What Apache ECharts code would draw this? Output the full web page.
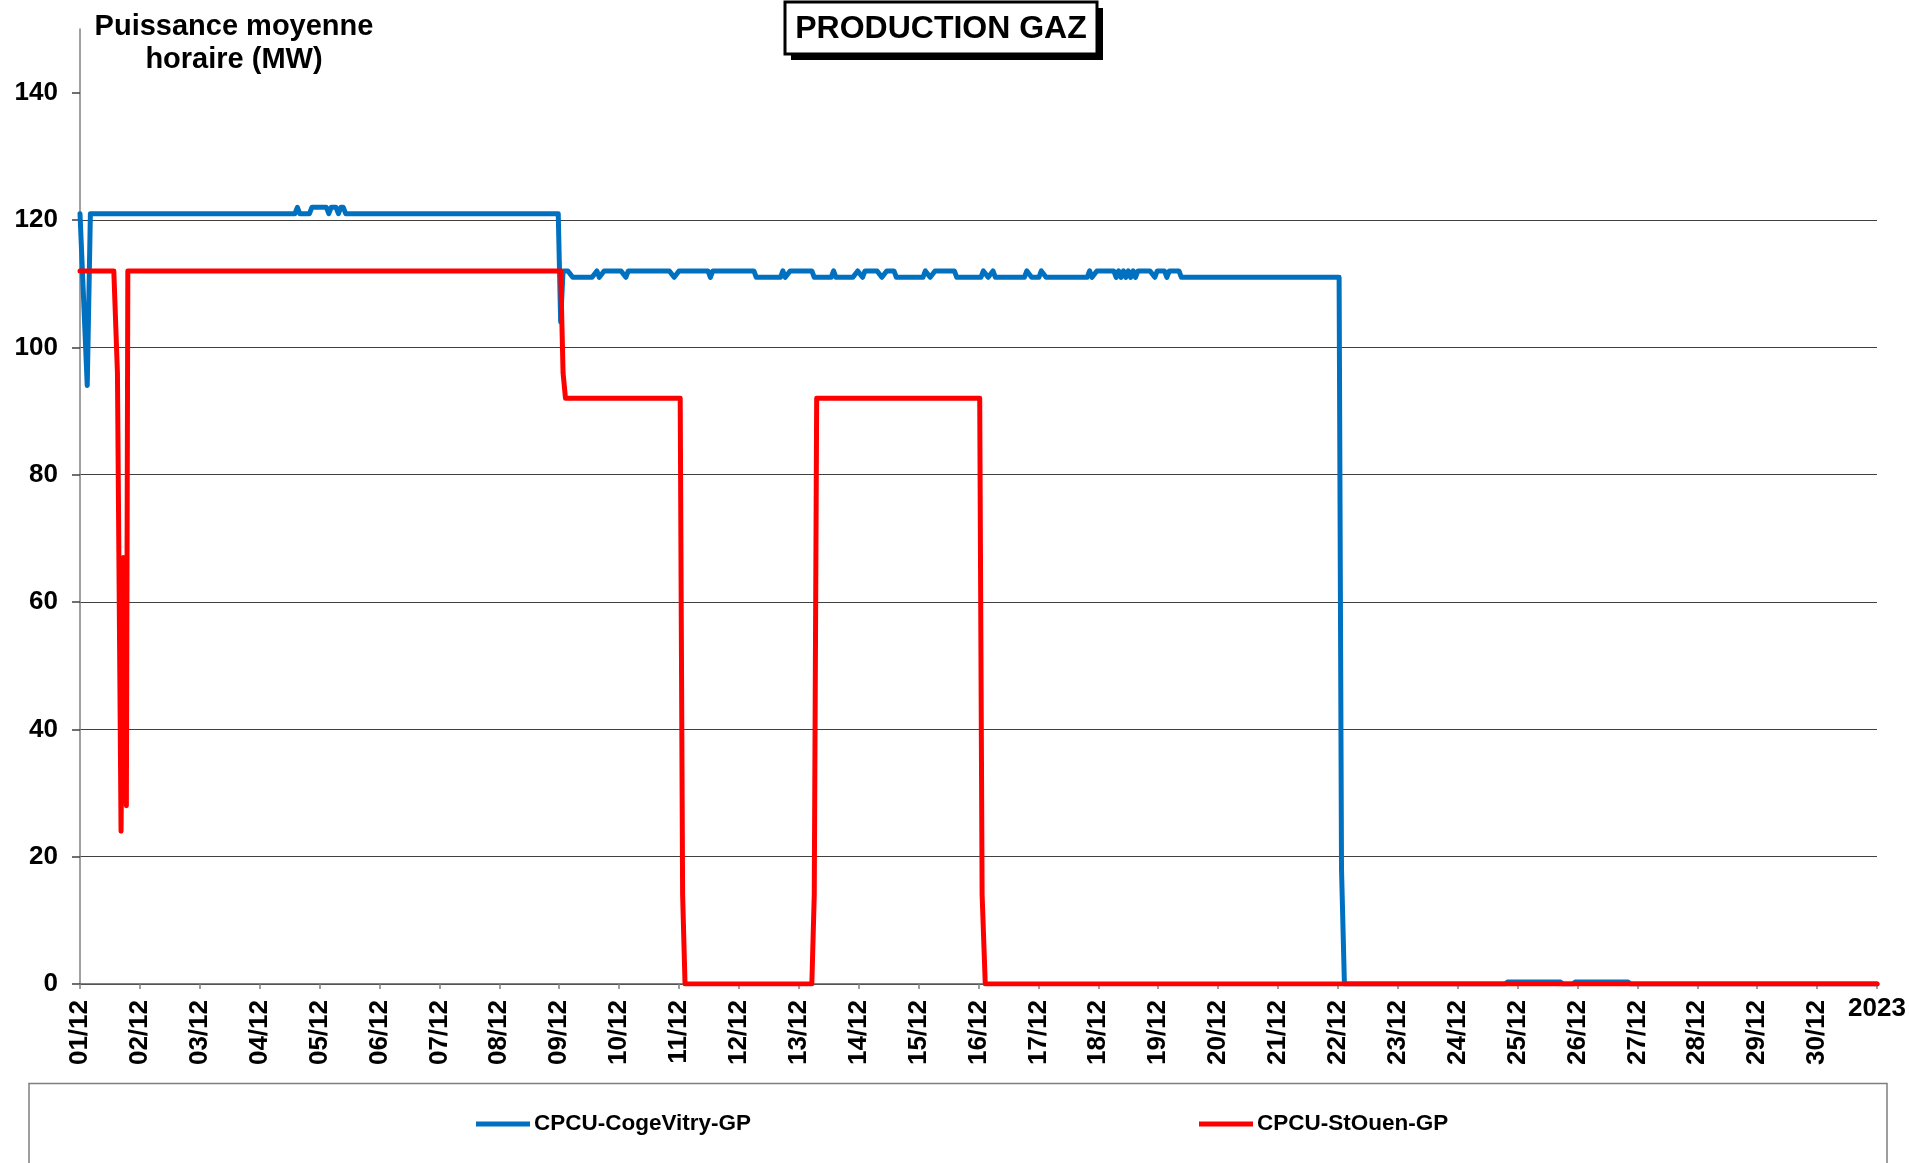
<!DOCTYPE html>
<html>
<head>
<meta charset="utf-8">
<script src="https://cdn.jsdelivr.net/npm/echarts@6/dist/echarts.min.js"></script>
<style>
html,body{margin:0;padding:0;background:#fff;}
#chart{width:1909px;height:1163px;}
</style>
</head>
<body>
<div id="chart"></div>
<script>
// x in hours since 01/12 00:00, y in MW
var dayLabels = ['01/12','02/12','03/12','04/12','05/12','06/12','07/12','08/12','09/12','10/12',
  '11/12','12/12','13/12','14/12','15/12','16/12','17/12','18/12','19/12','20/12',
  '21/12','22/12','23/12','24/12','25/12','26/12','27/12','28/12','29/12','30/12','2023'];
var yTicks = [0,20,40,60,80,100,120,140];
var seriesNames = ['CPCU-CogeVitry-GP','CPCU-StOuen-GP'];

var cogeVitry = [
  [0,121],[3,94],[4.3,121],[89,121],[90,122],[91,121],[95,121],[96,122],[102,122],[103,121],
  [104,122],[106,122],[107,121],[108,122],[109,122],[110,121],[198,121],[199,104],[200,112],
  [202,112],[204,111],[212,111],[214,112],[215,111],[217,112],[224,112],[226,111],[227,112],
  [244,112],[246,111],[248,112],[260,112],[261,111],[262,112],[279,112],[280,111],[290,111],
  [291,112],[292,111],[294,112],[303,112],[304,111],[311,111],[312,112],[313,111],[320,111],
  [322,112],[324,111],[325,112],[330,112],[332,111],[334,112],[337,112],[338,111],[349,111],
  [350,112],[352,111],[354,112],[362,112],[363,111],[373,111],[374,112],[376,111],[378,112],
  [379,111],[391,111],[392,112],[394,111],[397,111],[398,112],[400,111],[417,111],[418,112],
  [419,111],[421,112],[428,112],[429,111],[430,112],[431,111],[432,112],[433,111],[434,112],
  [435,111],[436,112],[437,111],[438,112],[443,112],[445,111],[446,112],[449,112],[450,111],
  [451,112],[455,112],[456,111],[521.3,111],[522.3,18],[523.5,0],[590,0],[591,0.3],[613,0.3],
  [614,0],[618,0],[619,0.3],[641,0.3],[642,0],[744,0]
];
var stOuen = [
  [0,112],[14,112],[15.5,96],[17,24],[18,67],[19.2,28],[19.8,112],[199,112],[200,96],[201,92],
  [248.5,92],[249.5,14],[250.5,0],[303,0],[304,14],[305,92],[372.5,92],[373.5,14],[374.8,0],[744,0]
];

var FONT = '"Liberation Sans", Arial, Helvetica, sans-serif';
var STEP = 744 / 30;

var chart = echarts.init(document.getElementById('chart'), null, {renderer:'canvas'});
chart.setOption({
  animation:false,
  backgroundColor:'#ffffff',
  grid:{left:80, right:32, top:29, bottom:179, containLabel:false},
  legend:[
    {data:[seriesNames[0]], left:476, top:1111, padding:0, icon:'rect', itemWidth:54, itemHeight:5, itemGap:0,
      textStyle:{fontFamily:FONT, fontWeight:'bold', fontSize:22.5, color:'#000', padding:[0,0,0,-1], lineHeight:26}},
    {data:[seriesNames[1]], left:1199, top:1111, padding:0, icon:'rect', itemWidth:54, itemHeight:5, itemGap:0,
      textStyle:{fontFamily:FONT, fontWeight:'bold', fontSize:22.5, color:'#000', padding:[0,0,0,-1], lineHeight:26}}
  ],
  xAxis:[
    {type:'value', min:0, max:744, interval:STEP, position:'bottom',
      axisLine:{show:true, onZero:false, lineStyle:{color:'#595959', width:1.5}},
      axisTick:{show:true, length:5, lineStyle:{color:'#808080', width:1.5}},
      splitLine:{show:false},
      axisLabel:{rotate:90, margin:16, fontFamily:FONT, fontWeight:'bold', fontSize:26, color:'#000',
        formatter:function(v){var i=Math.round(v/STEP); return i<30 ? dayLabels[i] : '';}}
    },
    {type:'value', min:0, max:744, interval:STEP, position:'bottom', gridIndex:0,
      axisLine:{show:false}, axisTick:{show:false}, splitLine:{show:false},
      axisLabel:{rotate:0, margin:12, fontFamily:FONT, fontWeight:'bold', fontSize:26, color:'#000',
        formatter:function(v){var i=Math.round(v/STEP); return i===30 ? dayLabels[30] : '';}}
    }
  ],
  yAxis:{type:'value', min:0, max:150, interval:20,
    axisLine:{show:true, lineStyle:{color:'#808080', width:1.5}},
    axisTick:{show:true, length:8, inside:false, customValues:yTicks, lineStyle:{color:'#404040', width:1.5}},
    splitLine:{show:true, showMaxLine:false, lineStyle:{color:'#404040', width:1.2}},
    axisLabel:{margin:22, customValues:yTicks, fontFamily:FONT, fontWeight:'bold', fontSize:26, color:'#000'}
  },
  series:[
    {name:seriesNames[0], type:'line', data:cogeVitry, xAxisIndex:0, showSymbol:false, symbol:'none',
      color:'#0070C0', lineStyle:{width:5, color:'#0070C0', join:'round', cap:'round'}},
    {name:seriesNames[1], type:'line', data:stOuen, xAxisIndex:0, showSymbol:false, symbol:'none',
      color:'#FF0000', lineStyle:{width:5, color:'#FF0000', join:'round', cap:'round'}}
  ],
  graphic:[
    {type:'rect', shape:{x:791, y:8, width:312, height:52}, style:{fill:'#000'}, silent:true, z:10},
    {type:'rect', shape:{x:785, y:2, width:312, height:52}, style:{fill:'#fff', stroke:'#000', lineWidth:3}, silent:true, z:11},
    {type:'text', x:941, y:29.5, z:12, style:{text:'PRODUCTION GAZ', font:'bold 32px ' + FONT, fill:'#000',
      textAlign:'center', textVerticalAlign:'middle'}},
    {type:'text', x:234, y:43, z:12, style:{text:'Puissance moyenne\nhoraire (MW)', font:'bold 29px ' + FONT,
      fill:'#000', textAlign:'center', textVerticalAlign:'middle', lineHeight:33}},
    {type:'rect', shape:{x:29, y:1083.5, width:1858, height:120}, style:{fill:'none', stroke:'#7f7f7f', lineWidth:1.5}, silent:true, z:1}
  ]
});
</script>
</body>
</html>
